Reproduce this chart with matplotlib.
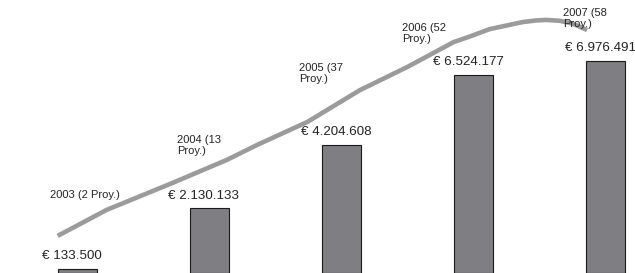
import matplotlib.pyplot as plt

# Inversion por año (barras) y proyectos (etiquetas)
years = [2003, 2004, 2005, 2006, 2007]
amounts = [133500, 2130133, 4204608, 6524177, 6976491]
amount_labels = ['€ 133.500', '€ 2.130.133', '€ 4.204.608', '€ 6.524.177', '€ 6.976.491']
year_labels = ['2003 (2 Proy.)', '2004 (13\nProy.)', '2005 (37\nProy.)',
               '2006 (52\nProy.)', '2007 (58\nProy.)']

# Curva de tendencia (nivel relativo 0-100)
trend_x = [2002.85, 2003.22, 2003.72, 2004.13, 2004.36, 2004.74, 2005.14,
           2005.50, 2005.85, 2005.97, 2006.12, 2006.37, 2006.47, 2006.55,
           2006.65, 2006.75, 2006.86]
trend_y = [13.6, 23.1, 33.0, 41.4, 46.9, 55.3, 67.0,
           75.5, 84.6, 86.6, 89.3, 91.9, 92.5, 92.7,
           92.4, 91.4, 89.0]

# posiciones de las etiquetas de año (px desde la esquina sup. izq.)
year_label_pos = [(50, 190), (177, 135), (299, 63), (402, 23), (563, 8)]

plt.rcParams['font.family'] = ['Liberation Sans', 'DejaVu Sans']

fig = plt.figure(figsize=(6.35, 2.73), dpi=100)
ax = fig.add_axes([0, 0, 1, 1])
ax.bar(years, amounts, width=0.295, color='#7f7f83', edgecolor='#1a1a1a', linewidth=0.8)
ax.set_xlim(2002.413, 2007.223)
ax.set_ylim(0, 8.98e6)
ax.axis('off')

for x, v, lab in zip(years, amounts, amount_labels):
    ax.annotate(lab, (x, v), xytext=(-4, 7), textcoords='offset points',
                ha='center', va='baseline', fontsize=9.6, color='#222222')

ax2 = ax.twinx()
ax2.set_ylim(0, 100)
ax2.plot(trend_x, trend_y, color='#9b9b9b', lw=3.3,
         solid_capstyle='butt', solid_joinstyle='round')
ax2.axis('off')

for (px, py), lab in zip(year_label_pos, year_labels):
    fig.text(px / 635, 1 - py / 273, lab, ha='left', va='top', fontsize=8,
             color='#222222', linespacing=1.1)

fig.savefig('out.png', dpi=100)
